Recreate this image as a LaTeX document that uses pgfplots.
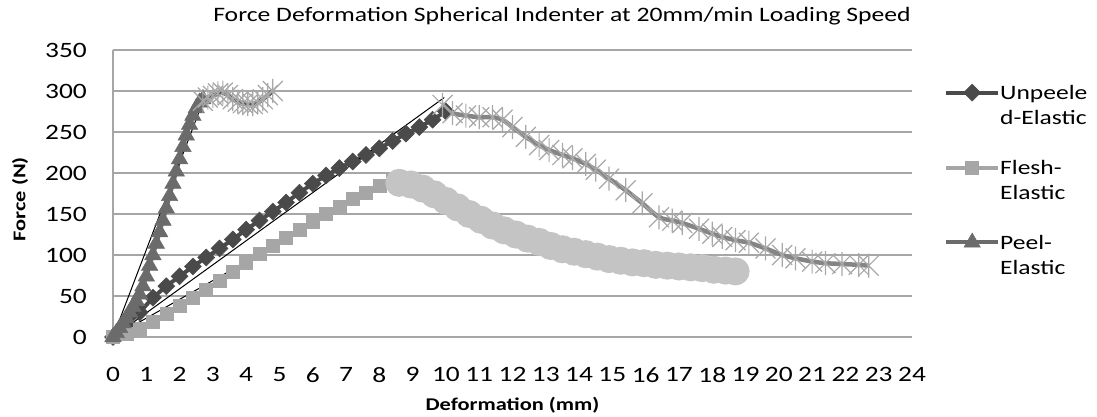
\documentclass[border=0pt]{standalone}
\usepackage{fontspec}
\setmainfont{Carlito}[FakeStretch=1.25]
\usepackage{pgfplots}
\pgfplotsset{compat=1.18}

\definecolor{gridgray}{HTML}{A6A6A6}
\definecolor{dia}{HTML}{4A4A4A}
\definecolor{sqr}{HTML}{A6A6A6}
\definecolor{tri}{HTML}{6B6B6B}
\definecolor{circ}{HTML}{C4C4C4}
\definecolor{xmk}{HTML}{A8A8A8}
\definecolor{xline}{HTML}{858585}
\definecolor{pxline}{HTML}{595959}

\pgfdeclareplotmark{xstar}{%
  \pgfpathmoveto{\pgfqpoint{-\pgfplotmarksize}{-\pgfplotmarksize}}%
  \pgfpathlineto{\pgfqpoint{\pgfplotmarksize}{\pgfplotmarksize}}%
  \pgfpathmoveto{\pgfqpoint{-\pgfplotmarksize}{\pgfplotmarksize}}%
  \pgfpathlineto{\pgfqpoint{\pgfplotmarksize}{-\pgfplotmarksize}}%
  \pgfpathmoveto{\pgfqpoint{0pt}{-1.2\pgfplotmarksize}}%
  \pgfpathlineto{\pgfqpoint{0pt}{1.2\pgfplotmarksize}}%
  \pgfusepathqstroke}

\begin{document}
\begin{tikzpicture}
\useasboundingbox (-113bp,-80bp) rectangle (984bp,337bp);
\begin{axis}[
  scale only axis, width=799bp, height=287bp,
  xmin=0, xmax=24, ymin=0, ymax=350,
  xtick={0,1,...,24}, ytick={0,50,...,350},
  ymajorgrids, major grid style={color=gridgray, line width=1.2bp},
  axis lines*=left,
  x axis line style={draw=none},
  y axis line style={draw=gridgray, line width=1.2bp},
  major tick length=0pt,
  /pgf/number format/assume math mode=true,
  tick label style={font=\fontsize{22}{26}\selectfont, inner sep=0pt},
  xticklabel shift=30bp,
  yticklabel shift=26bp,
  xlabel={\bfseries Deformation (mm)},
  ylabel={\bfseries Force (N)},
  label style={font=\fontsize{18}{22}\selectfont},
  xlabel style={at={(axis description cs:0.5,0)}, anchor=center, yshift=-68bp},
  ylabel style={at={(axis description cs:0,0.48)}, anchor=center, yshift=93bp},
  title={Force Deformation Spherical Indenter at 20mm/min Loading Speed},
  title style={at={(axis description cs:0.562,1)}, anchor=center, yshift=28bp, font=\fontsize{20.6}{24}\selectfont},
  legend style={at={(axis description cs:1,1)}, anchor=north west, xshift=29bp, yshift=-30bp,
     draw=none, fill=none, font=\fontsize{20.5}{25}\selectfont, row sep=56bp,
     nodes={inner sep=0pt}, cells={anchor=base west}},
  legend image code/.code={\draw[mark repeat=2,mark phase=2,#1] plot coordinates {(0bp,7bp) (26bp,7bp) (52bp,7bp)};},
]
% Unpeeled-Elastic (diamonds)
\addplot[color=dia, line width=4bp, mark=square*, mark size=6bp, mark options={rotate=45, fill=dia, draw=dia, line width=0.5bp}] coordinates {
(0,0) (0.4,14) (0.8,30) (1.2,48) (1.6,62) (2.0,74) (2.4,86) (2.8,97) (3.2,108) (3.6,119) (4.0,131) (4.4,142) (4.8,153) (5.2,164) (5.6,176) (6.0,187) (6.4,197) (6.8,206) (7.2,214) (7.6,222) (8.0,230) (8.4,239) (8.8,248) (9.2,256) (9.6,265) (10.0,275)};
\addlegendentry{\begin{tabular}[t]{@{}l@{}}Unpeele\\d-Elastic\end{tabular}}
% Flesh-Elastic (squares)
\addplot[color=sqr, line width=4bp, mark=square*, mark size=6.5bp, mark options={fill=sqr, draw=sqr, line width=0.5bp}] coordinates {
(0,0) (0.4,4) (0.8,10) (1.2,18) (1.6,28) (2.0,38) (2.4,48) (2.8,58) (3.2,69) (3.6,80) (4.0,91) (4.4,101) (4.8,111) (5.2,121) (5.6,131) (6.0,141) (6.4,150) (6.8,159) (7.2,168) (7.6,176) (8.0,184) (8.4,190) (8.7,191)};
\addlegendentry{\begin{tabular}[t]{@{}l@{}}Flesh-\\Elastic\end{tabular}}
% Peel-Elastic (triangles)
\addplot[color=tri, line width=4bp, mark=triangle*, mark size=9.5bp, mark options={fill=tri, draw=tri, line width=0.5bp}] coordinates {
(0,0) (0.1,5) (0.2,11) (0.3,17) (0.4,23) (0.5,30) (0.6,37) (0.7,44) (0.8,52) (0.9,62) (1.0,74) (1.1,87) (1.2,100) (1.3,114) (1.4,128) (1.5,142) (1.6,157) (1.7,172) (1.8,187) (1.9,202) (2.0,217) (2.1,232) (2.2,246) (2.3,259) (2.4,270) (2.5,279) (2.6,286) (2.7,290)};
\addlegendentry{\begin{tabular}[t]{@{}l@{}}Peel-\\Elastic\end{tabular}}
% Flesh after peak (circles)
\addplot[forget plot, color=circ, line width=4bp, mark=*, mark size=12bp, mark options={fill=circ, draw=circ}] coordinates {
(8.6,188) (8.95,186) (9.3,181) (9.65,174) (10.0,166) (10.35,158) (10.7,150) (11.05,143) (11.4,136) (11.75,130) (12.1,125) (12.45,120) (12.8,116) (13.15,111) (13.5,107) (13.85,104) (14.2,101) (14.55,98) (14.9,95) (15.25,93) (15.6,91) (15.95,90) (16.3,88) (16.65,87) (17.0,86) (17.35,85) (17.7,84) (18.05,82) (18.4,81) (18.7,80)};
% Unpeeled after peak (stars)
\addplot[forget plot, color=xline, line width=4.5bp, smooth, tension=0.4, mark=xstar, mark size=10bp, mark options={draw=xmk, line width=1.2bp}] coordinates {
(9.9,283) (10.2,273) (10.6,270) (11.0,268) (11.4,268) (11.7,265) (12.0,256) (12.4,244) (12.8,234) (13.1,228) (13.5,222) (13.8,218) (14.2,211) (14.5,204) (14.9,193) (15.4,179) (15.9,163) (16.4,146) (16.8,142) (17.1,139) (17.6,132) (18.0,126) (18.3,122) (18.7,118) (19.1,115) (19.6,108) (20.1,100) (20.5,96) (21.0,92) (21.4,90) (21.9,89) (22.4,88) (22.7,87)};
% Peel after peak (stars)
\addplot[forget plot, color=pxline, line width=4.5bp, smooth, tension=0.4, mark=xstar, mark size=10bp, mark options={draw=xmk, line width=1.2bp}] coordinates {
(2.7,288) (2.85,292) (3.0,294) (3.15,297) (3.3,298) (3.45,295) (3.6,290) (3.75,287) (3.9,285) (4.05,284) (4.2,284) (4.35,286) (4.5,290) (4.65,295) (4.8,300)};
% Linear trend lines
\addplot[forget plot, black, line width=1bp] coordinates {(0,0) (2.72,289)};
\addplot[forget plot, black, line width=1bp] coordinates {(0,0) (9.95,292)};
\addplot[forget plot, black, line width=1bp] coordinates {(0,0) (8.5,195)};
\end{axis}
\end{tikzpicture}
\end{document}
